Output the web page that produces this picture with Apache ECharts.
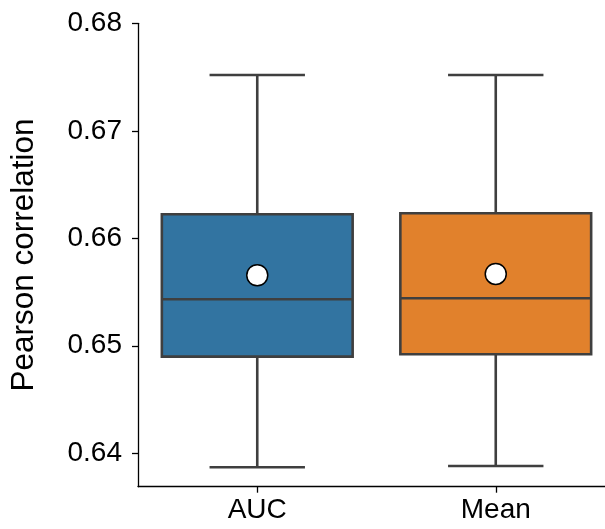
<!DOCTYPE html>
<html>
<head>
<meta charset="utf-8">
<script src="https://cdn.jsdelivr.net/npm/echarts@6/dist/echarts.min.js"></script>
<style>html,body{margin:0;padding:0;background:#fff;overflow:hidden}#c{width:625px;height:529px}</style>
</head>
<body>
<div id="c"></div>
<script>
var categories = ['AUC', 'Mean'];
// [lowerWhisker, Q1, median, Q3, upperWhisker]
var boxAUC = [0.63870, 0.64899, 0.65433, 0.66223, 0.67519];
var boxMean = [0.63882, 0.64921, 0.65442, 0.66233, 0.67519];
var meanValues = [0.65656, 0.65668];
var boxColors = ['#3274A1', '#E1812C'];
var yTicks = [0.64, 0.65, 0.66, 0.67, 0.68];
var yMin = 0.63689, yMax = 0.68;

var boxes = [boxAUC, boxMean];
var customData = boxes.map(function (b, i) { return [i].concat(b); });

var chart = echarts.init(document.getElementById('c'), null, {renderer: 'canvas'});
var edge = '#3f3f3f';
var font = 'Liberation Sans, Arial, sans-serif';
chart.setOption({
  animation: false,
  grid: {left: 138, width: 477, top: 23.3, height: 463.4, containLabel: false, outerBoundsMode: 'none'},
  xAxis: {
    type: 'category', data: categories, boundaryGap: true,
    axisLine: {lineStyle: {color: '#000', width: 1.3}},
    axisTick: {show: true, length: 6, alignWithLabel: true, lineStyle: {color: '#000', width: 1.3}},
    axisLabel: {color: '#000', fontSize: 28, fontFamily: font, margin: 10}
  },
  yAxis: {
    type: 'value', min: yMin, max: yMax,
    name: 'Pearson correlation', nameLocation: 'middle', nameGap: 98, nameRotate: 90,
    nameTextStyle: {color: '#000', fontSize: 31.5, fontFamily: font},
    axisLine: {show: true, lineStyle: {color: '#000', width: 1.3}},
    axisTick: {show: true, length: 6, customValues: yTicks, lineStyle: {color: '#000', width: 1.3}},
    axisLabel: {color: '#000', fontSize: 28, fontFamily: font, margin: 16,
      customValues: yTicks, formatter: function (v) { return v.toFixed(2); }},
    splitLine: {show: false}
  },
  series: [
    {
      type: 'custom',
      data: customData,
      encode: {x: 0, y: [1, 2, 3, 4, 5]},
      renderItem: function (params, api) {
        var i = api.value(0);
        var lo = api.coord([i, api.value(1)]);
        var q1 = api.coord([i, api.value(2)]);
        var med = api.coord([i, api.value(3)]);
        var q3 = api.coord([i, api.value(4)]);
        var hi = api.coord([i, api.value(5)]);
        var bw = api.size([1, 0])[0] * 0.8;
        var cx = lo[0];
        var ls = {stroke: edge, lineWidth: 2.6};
        return {
          type: 'group',
          children: [
            {type: 'line', shape: {x1: cx, y1: q1[1], x2: cx, y2: lo[1]}, style: ls},
            {type: 'line', shape: {x1: cx, y1: q3[1], x2: cx, y2: hi[1]}, style: ls},
            {type: 'line', shape: {x1: cx - bw / 4, y1: lo[1], x2: cx + bw / 4, y2: lo[1]}, style: ls},
            {type: 'line', shape: {x1: cx - bw / 4, y1: hi[1], x2: cx + bw / 4, y2: hi[1]}, style: ls},
            {type: 'rect', shape: {x: cx - bw / 2, y: q3[1], width: bw, height: q1[1] - q3[1]},
              style: {fill: boxColors[i], stroke: edge, lineWidth: 2.6}},
            {type: 'line', shape: {x1: cx - bw / 2, y1: med[1], x2: cx + bw / 2, y2: med[1]}, style: ls}
          ]
        };
      },
      z: 2
    },
    {
      type: 'scatter',
      data: meanValues.map(function (v, i) { return [i, v]; }),
      symbol: 'circle', symbolSize: 21,
      itemStyle: {color: '#fff', borderColor: '#000', borderWidth: 1.5, opacity: 1},
      z: 5
    }
  ]
});
</script>
</body>
</html>
